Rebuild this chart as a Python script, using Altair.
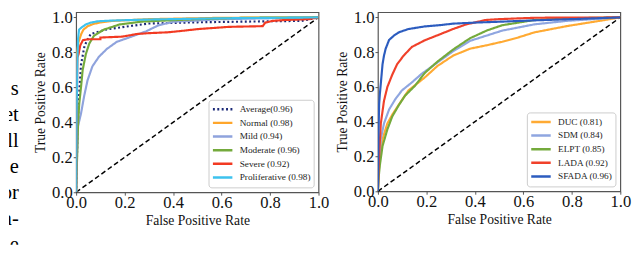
import altair as alt
import pandas as pd

# ---------------- data ----------------
body_text = ["s", "et", "ll", "e", "or", "a-", "e"]
body_line = [0, 1, 2, 3, 4, 5, 6]

left_names = ["Average(0.96)", "Normal (0.98)", "Mild (0.94)", "Moderate (0.96)",
              "Severe (0.92)", "Proliferative (0.98)"]
left_colors = ["#1c2a78", "#ffa62b", "#8fa3dd", "#74aa3c", "#f23a22", "#3dc2ee"]
left_dashes = [[2, 2.5], [1, 0], [1, 0], [1, 0], [1, 0], [1, 0]]

avg_fpr = [0, 0.005, 0.01, 0.015, 0.02, 0.035, 0.06, 0.12, 0.23, 0.3, 0.5, 0.7, 0.93, 1.0]
avg_tpr = [0, 0.3, 0.5, 0.62, 0.73, 0.84, 0.905, 0.93, 0.952, 0.965, 0.972, 0.976, 0.98, 1.0]

normal_fpr = [0, 0.002, 0.004, 0.01, 0.021, 0.03, 0.048, 0.07, 0.095, 0.15, 0.3, 0.6, 1.0]
normal_tpr = [0, 0.5, 0.8, 0.86, 0.905, 0.93, 0.95, 0.962, 0.97, 0.98, 0.99, 0.998, 1.0]

mild_fpr = [0, 0.003, 0.008, 0.02, 0.033, 0.047, 0.067, 0.094, 0.127, 0.167, 0.22, 0.288,
            0.34, 0.4, 0.6, 1.0]
mild_tpr = [0, 0.2, 0.38, 0.45, 0.55, 0.64, 0.72, 0.775, 0.82, 0.86, 0.886, 0.92,
            0.955, 0.975, 0.99, 1.0]

moderate_fpr = [0, 0.002, 0.004, 0.008, 0.013, 0.02, 0.027, 0.04, 0.054, 0.074, 0.114,
                0.18, 0.27, 0.5, 0.7, 1.0]
moderate_tpr = [0, 0.12, 0.2, 0.4, 0.51, 0.6, 0.70, 0.79, 0.85, 0.896, 0.93,
                0.96, 0.976, 0.99, 0.998, 1.0]

severe_fpr = [0, 0.002, 0.005, 0.01, 0.017, 0.028, 0.05, 0.1, 0.1, 0.19, 0.25, 0.30, 0.38,
              0.45, 0.5, 0.63, 0.77, 0.78, 0.81, 0.86, 0.96, 1.0]
severe_tpr = [0, 0.4, 0.77, 0.79, 0.84, 0.87, 0.875, 0.875, 0.885, 0.89, 0.905, 0.91, 0.915,
              0.925, 0.933, 0.946, 0.95, 0.97, 0.98, 0.985, 0.99, 1.0]

prolif_fpr = [0, 0.002, 0.005, 0.008, 0.012, 0.02, 0.04, 0.06, 0.09, 0.15, 0.3, 0.6, 1.0]
prolif_tpr = [0, 0.45, 0.75, 0.88, 0.93, 0.94, 0.96, 0.97, 0.978, 0.982, 0.988, 0.995, 1.0]

right_names = ["DUC (0.81)", "SDM (0.84)", "ELPT (0.85)", "LADA (0.92)", "SFADA (0.96)"]
right_colors = ["#ffaa33", "#8fa6e0", "#74aa3c", "#f0412a", "#2c5cbf"]
right_dashes = [[1, 0], [1, 0], [1, 0], [1, 0], [1, 0]]

duc_fpr = [0, 0.003, 0.008, 0.019, 0.039, 0.059, 0.092, 0.126, 0.193, 0.245, 0.31, 0.38,
           0.45, 0.513, 0.58, 0.646, 0.78, 0.914, 1.0]
duc_tpr = [0, 0.1, 0.2, 0.30, 0.39, 0.44, 0.51, 0.58, 0.654, 0.72, 0.78, 0.82,
           0.84, 0.86, 0.885, 0.914, 0.95, 0.98, 1.0]

sdm_fpr = [0, 0.003, 0.006, 0.012, 0.025, 0.046, 0.072, 0.099, 0.14, 0.18, 0.22, 0.26, 0.31,
           0.38, 0.513, 0.646, 0.78, 1.0]
sdm_tpr = [0, 0.12, 0.2, 0.3, 0.39, 0.47, 0.53, 0.58, 0.626, 0.675, 0.715, 0.755, 0.805,
           0.865, 0.924, 0.96, 0.98, 1.0]

elpt_fpr = [0, 0.003, 0.008, 0.019, 0.039, 0.059, 0.086, 0.112, 0.153, 0.193, 0.245, 0.31,
            0.38, 0.45, 0.513, 0.646, 0.8, 1.0]
elpt_tpr = [0, 0.08, 0.15, 0.26, 0.356, 0.43, 0.495, 0.55, 0.607, 0.68, 0.745, 0.815,
            0.88, 0.925, 0.955, 0.985, 0.995, 1.0]

lada_fpr = [0, 0.002, 0.005, 0.012, 0.025, 0.039, 0.059, 0.079, 0.106, 0.14, 0.193, 0.26,
            0.31, 0.365, 0.445, 0.5, 0.65, 1.0]
lada_tpr = [0, 0.1, 0.21, 0.39, 0.52, 0.60, 0.67, 0.73, 0.78, 0.83, 0.868, 0.905,
            0.933, 0.96, 0.985, 0.99, 0.998, 1.0]

sfada_fpr = [0, 0.002, 0.005, 0.008, 0.012, 0.019, 0.025, 0.032, 0.046, 0.066, 0.086, 0.126,
             0.193, 0.26, 0.31, 0.4, 0.5, 0.65, 0.8, 1.0]
sfada_tpr = [0, 0.3, 0.5, 0.56, 0.62, 0.73, 0.78, 0.82, 0.87, 0.895, 0.914, 0.933,
             0.948, 0.956, 0.964, 0.97, 0.975, 0.983, 0.99, 1.0]

diag_fpr = [0, 1]
diag_tpr = [0, 1]

x_ticks = [0, 0.2, 0.4, 0.6, 0.8, 1.0]
y_ticks = [0, 0.2, 0.4, 0.6, 0.8, 1.0]

# ---------------- helpers ----------------
SERIF = "Liberation Serif"
FRAME = "#555555"


def long_table(names, curves):
    rows = []
    for name, (fx, fy) in zip(names, curves):
        for k, (a, b) in enumerate(zip(fx, fy)):
            rows.append({"series": name, "fpr": a, "tpr": b, "k": k})
    return pd.DataFrame(rows)


def roc_panel(df, names, colors, dashes, height):
    x_axis = alt.Axis(values=x_ticks, format=".1f", title="False Positive Rate",
                      labelFont=SERIF, labelFontSize=17, labelColor="#111",
                      titleFont=SERIF, titleFontSize=14, titleFontWeight="normal",
                      titleColor="#111", tickColor=FRAME, tickSize=3, domain=False,
                      grid=False, labelFlush=False, labelPadding=0, titlePadding=3)
    y_axis = alt.Axis(values=y_ticks, format=".1f", title="True Positive Rate",
                      labelFont=SERIF, labelFontSize=17, labelColor="#111",
                      titleFont=SERIF, titleFontSize=14, titleFontWeight="normal",
                      titleColor="#111", tickColor=FRAME, tickSize=3, domain=False,
                      grid=False, labelFlush=False, labelPadding=1, titlePadding=4)
    xs = alt.Scale(domain=[0, 1], nice=False, zero=False)
    ys = alt.Scale(domain=[0, 1.03], nice=False, zero=False)
    legend = alt.Legend(orient="bottom-right", title=None, offset=5, fillColor="white",
                        strokeColor="#cccccc", cornerRadius=3, padding=3,
                        labelFont=SERIF, labelFontSize=9.5, labelColor="#222",
                        symbolType="stroke", symbolSize=400, symbolStrokeWidth=2.5,
                        clipHeight=13.5, rowPadding=0, labelOffset=6)
    diag = alt.Chart(pd.DataFrame({"fpr": diag_fpr, "tpr": diag_tpr})).mark_line(
        color="black", strokeDash=[5, 3], strokeWidth=1.5
    ).encode(x=alt.X("fpr:Q", scale=xs, axis=x_axis),
             y=alt.Y("tpr:Q", scale=ys, axis=y_axis))
    lines = alt.Chart(df).mark_line(strokeWidth=2.2, clip=True).encode(
        x=alt.X("fpr:Q", scale=xs, axis=x_axis),
        y=alt.Y("tpr:Q", scale=ys, axis=y_axis),
        color=alt.Color("series:N", scale=alt.Scale(domain=names, range=colors),
                        legend=legend, sort=names),
        strokeDash=alt.StrokeDash("series:N", scale=alt.Scale(domain=names, range=dashes),
                                  legend=legend, sort=names),
        order="k:Q",
    )
    return alt.layer(diag, lines).properties(
        width=249, height=height,
        view=alt.ViewBackground(stroke=FRAME, strokeWidth=1.2))


left_df = long_table(left_names, [(avg_fpr, avg_tpr), (normal_fpr, normal_tpr),
                                  (mild_fpr, mild_tpr), (moderate_fpr, moderate_tpr),
                                  (severe_fpr, severe_tpr), (prolif_fpr, prolif_tpr)])
right_df = long_table(right_names, [(duc_fpr, duc_tpr), (sdm_fpr, sdm_tpr),
                                    (elpt_fpr, elpt_tpr), (lada_fpr, lada_tpr),
                                    (sfada_fpr, sfada_tpr)])

left = roc_panel(left_df, left_names, left_colors, left_dashes, 185)
right = roc_panel(right_df, right_names, right_colors, right_dashes, 184)

text_panel = alt.Chart(pd.DataFrame({"t": body_text, "line": body_line})).mark_text(
    align="right", baseline="middle", font=SERIF, fontSize=21, color="black", clip=True
).encode(
    x=alt.value(10),
    y=alt.Y("line:Q", scale=alt.Scale(domain=[-2.948, 6.0], reverse=True, nice=False, zero=False),
            axis=None),
    text="t:N",
).properties(width=12, height=239, view=alt.ViewBackground(stroke="transparent"))

pair = alt.hconcat(left, right, spacing=5).resolve_scale(
    color="independent", strokeDash="independent", x="independent", y="independent"
).resolve_legend(color="independent", strokeDash="independent")

chart = alt.hconcat(text_panel, pair, spacing=12).resolve_scale(
    color="independent", strokeDash="independent", y="independent"
).resolve_legend(color="independent", strokeDash="independent").properties(
    padding={"top": -4, "left": 0, "right": 0, "bottom": 0}, background="white")

chart.save("out.html", embed_options={"renderer": "svg", "actions": False})
